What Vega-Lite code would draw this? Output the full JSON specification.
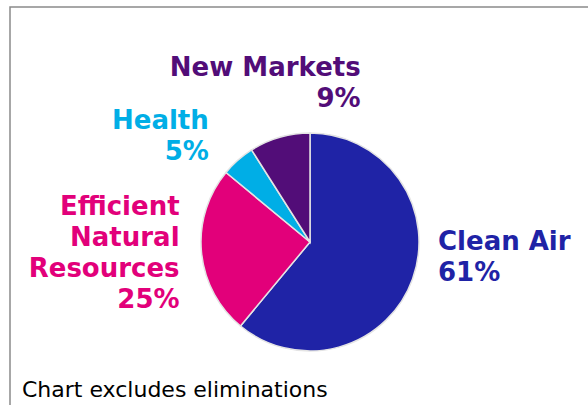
{
  "$schema": "https://vega.github.io/schema/vega-lite/v6.json",
  "width": 600,
  "height": 470,
  "autosize": {"type": "none"},
  "padding": {"left": 10, "top": 7, "right": 0, "bottom": 0},
  "background": "white",
  "view": {"stroke": "#8a8a8a", "strokeWidth": 1.5, "fill": "white"},
  "title": {
    "text": "Chart excludes eliminations",
    "orient": "bottom",
    "anchor": "start",
    "frame": "group",
    "offset": -80,
    "baseline": "alphabetic",
    "dx": 12,
    "font": "DejaVu Sans",
    "fontSize": 22,
    "fontWeight": "normal",
    "color": "#000000"
  },
  "config": {"view": {"stroke": "#8a8a8a", "strokeWidth": 1.5}},
  "data": {
    "values": [
      {"name": "Clean Air", "value": 61, "label": "Clean Air\n61%"},
      {"name": "Efficient Natural Resources", "value": 25, "label": "Efficient\nNatural\nResources\n25%"},
      {"name": "Health", "value": 5, "label": "Health\n5%"},
      {"name": "New Markets", "value": 9, "label": "New Markets\n9%"}
    ]
  },
  "encoding": {
    "theta": {"field": "value", "type": "quantitative", "stack": true},
    "color": {
      "field": "name",
      "type": "nominal",
      "scale": {
        "domain": ["Clean Air", "Efficient Natural Resources", "Health", "New Markets"],
        "range": ["#1f23a6", "#e2007a", "#00aee6", "#520d78"]
      },
      "legend": null
    }
  },
  "layer": [
    {"mark": {"type": "arc", "outerRadius": 109, "stroke": "#e4e4e4", "strokeWidth": 1.5}},
    {
      "mark": {"type": "text", "radius": 135, "align": "left", "baseline": "middle", "dx": 1, "dy": -46, "font": "DejaVu Sans", "fontSize": 26, "fontWeight": "bold", "lineHeight": 31, "lineBreak": "\n"},
      "encoding": {"text": {"condition": {"test": "datum.name === 'Clean Air'", "field": "label"}, "value": ""}}
    },
    {
      "mark": {"type": "text", "radius": 131, "align": "right", "baseline": "middle", "dx": 0, "dy": -47, "font": "DejaVu Sans", "fontSize": 26, "fontWeight": "bold", "lineHeight": 31, "lineBreak": "\n"},
      "encoding": {"text": {"condition": {"test": "datum.name === 'Efficient Natural Resources'", "field": "label"}, "value": ""}}
    },
    {
      "mark": {"type": "text", "radius": 150, "align": "right", "baseline": "middle", "dx": -2, "dy": -8, "font": "DejaVu Sans", "fontSize": 26, "fontWeight": "bold", "lineHeight": 31, "lineBreak": "\n"},
      "encoding": {"text": {"condition": {"test": "datum.name === 'Health'", "field": "label"}, "value": ""}}
    },
    {
      "mark": {"type": "text", "radius": 166, "align": "right", "baseline": "middle", "dx": 97, "dy": -15, "font": "DejaVu Sans", "fontSize": 26, "fontWeight": "bold", "lineHeight": 31, "lineBreak": "\n"},
      "encoding": {"text": {"condition": {"test": "datum.name === 'New Markets'", "field": "label"}, "value": ""}}
    }
  ]
}
